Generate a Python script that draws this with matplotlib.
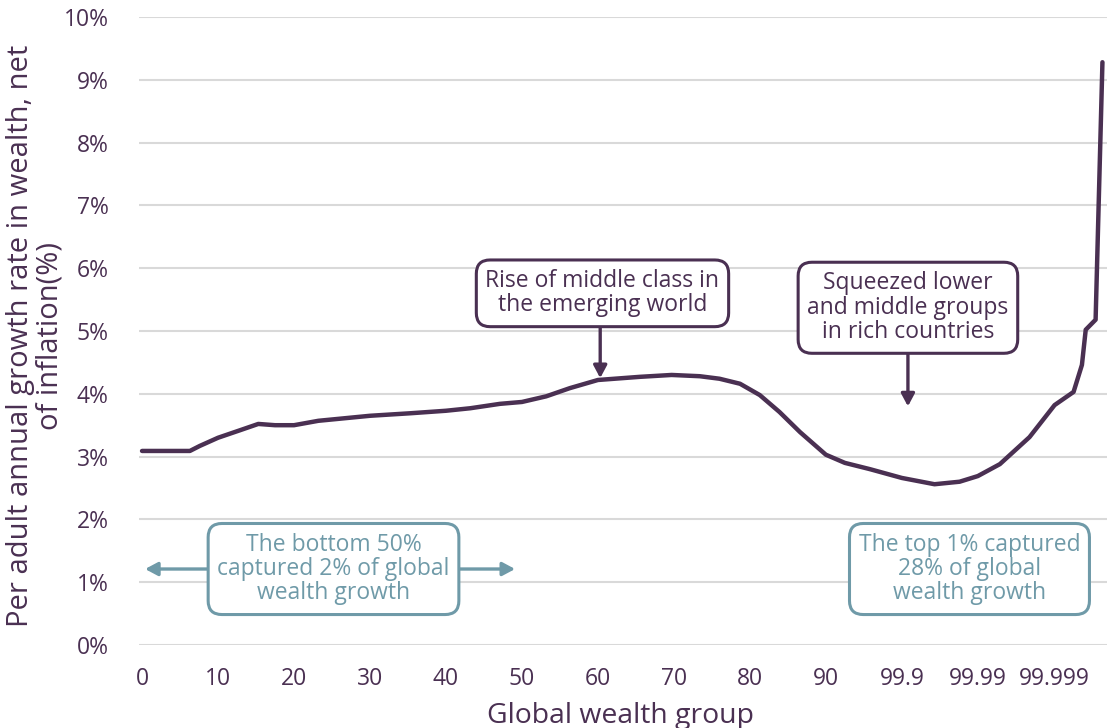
import matplotlib
matplotlib.use("Agg")
import matplotlib.pyplot as plt

plt.rcParams['font.family'] = ['Open Sans', 'DejaVu Sans']

PURPLE = "#4a3052"
TEAL = "#6f9aa8"
GRID = "#d9d9d9"

# Position along the x axis (0-90 percentiles, then 99.9 / 99.99 / 99.999 groups
# each spaced like a 10-percentile step) and the growth rate in %.
x_pos = [0, 3, 6.3, 7.6, 10, 12.9, 15.3, 17.5, 20, 23.2, 30, 35.3, 40, 43.2,
         47.1, 50, 53.2, 56.3, 60, 65.5, 69.7, 73.4, 76, 78.7, 81.3, 83.9,
         86.6, 90, 92.5, 95.8, 100, 104.3, 107.6, 110, 112.9, 116.8, 120.1,
         122.6, 123.7, 124.2, 125.5, 126.4]
growth = [3.09, 3.09, 3.09, 3.17, 3.30, 3.42, 3.52, 3.50, 3.50, 3.57, 3.65,
          3.69, 3.73, 3.77, 3.84, 3.87, 3.96, 4.09, 4.22, 4.27, 4.30, 4.28,
          4.24, 4.16, 3.98, 3.71, 3.39, 3.03, 2.90, 2.80, 2.66, 2.56, 2.60,
          2.69, 2.88, 3.31, 3.82, 4.03, 4.46, 5.02, 5.18, 9.28]

tick_pos = [0, 10, 20, 30, 40, 50, 60, 70, 80, 90, 100, 110, 120]
tick_labels = ["0", "10", "20", "30", "40", "50", "60", "70", "80", "90",
               "99.9", "99.99", "99.999"]
y_ticks = list(range(0, 11))

W, H = 1109, 728
fig = plt.figure(figsize=(W / 100, H / 100), dpi=100)
ax = fig.add_axes([139 / W, 1 - 645 / H, (1107 - 139) / W, (645 - 17) / H])

ax.plot(x_pos, growth, color=PURPLE, lw=3.2, solid_capstyle="round",
        solid_joinstyle="round", zorder=3)

ax.set_xlim(-0.4, 127.0)
ax.set_ylim(0, 10)
ax.set_xticks(tick_pos)
ax.set_xticklabels(tick_labels)
ax.set_yticks(y_ticks)
ax.set_yticklabels([f"{v}%" for v in y_ticks])
ax.tick_params(axis="both", length=0, labelsize=16.5, colors=PURPLE)
ax.tick_params(axis="y", pad=22)
ax.tick_params(axis="x", pad=16)
ax.grid(axis="y", color=GRID, lw=1.5)
ax.set_axisbelow(True)
for s in ax.spines.values():
    s.set_visible(False)

# Axis titles placed in figure pixels
fig.text(620.5 / W, 1 - 716 / H, "Global wealth group", fontsize=20.4,
         color=PURPLE, ha="center", va="center")
fig.text(35 / W, 1 - 336 / H,
         "Per adult annual growth rate in wealth, net\nof inflation(%)",
         fontsize=21, color=PURPLE, ha="center", va="center", rotation=90,
         multialignment="center", linespacing=1.0)

box_purple = dict(boxstyle="round,pad=0.4,rounding_size=0.6", fc="white",
                  ec=PURPLE, lw=2.2)
box_teal = dict(boxstyle="round,pad=0.4,rounding_size=0.6", fc="white",
                ec=TEAL, lw=2.2)
head = "-|>,head_length=0.75,head_width=0.4"
txt_kw = dict(ha="center", va="center", fontsize=16.5, linespacing=1.02,
              zorder=5)

# Rise of middle class: arrow runs from behind the box down to the curve
ax.annotate("", xy=(60.3, 4.25), xytext=(60.3, 5.6),
            arrowprops=dict(arrowstyle=head, color=PURPLE, lw=2.4,
                            shrinkA=0, shrinkB=0), zorder=4)
ax.text(60.6, 5.6, "Rise of middle class in\nthe emerging world",
        color=PURPLE, bbox=box_purple, **txt_kw)

# Squeezed groups
ax.annotate("", xy=(100.8, 3.80), xytext=(100.8, 5.37),
            arrowprops=dict(arrowstyle=head, color=PURPLE, lw=2.4,
                            shrinkA=0, shrinkB=0), zorder=4)
ax.text(100.8, 5.37, "Squeezed lower\nand middle groups\nin rich countries",
        color=PURPLE, bbox=box_purple, **txt_kw)

# Bottom 50%: double-headed arrow spanning the first half of the distribution
ax.annotate("", xy=(0.4, 1.21), xytext=(49.1, 1.21),
            arrowprops=dict(arrowstyle="<|-|>,head_length=0.75,head_width=0.4",
                            color=TEAL, lw=2.4, shrinkA=0, shrinkB=0), zorder=4)
ax.text(25.2, 1.21, "The bottom 50%\ncaptured 2% of global\nwealth growth",
        color=TEAL, bbox=box_teal, **txt_kw)

# Top 1%
ax.text(108.9, 1.21, "The top 1% captured\n28% of global\nwealth growth",
        color=TEAL, bbox=box_teal, **txt_kw)

fig.savefig("out.png", dpi=100)
